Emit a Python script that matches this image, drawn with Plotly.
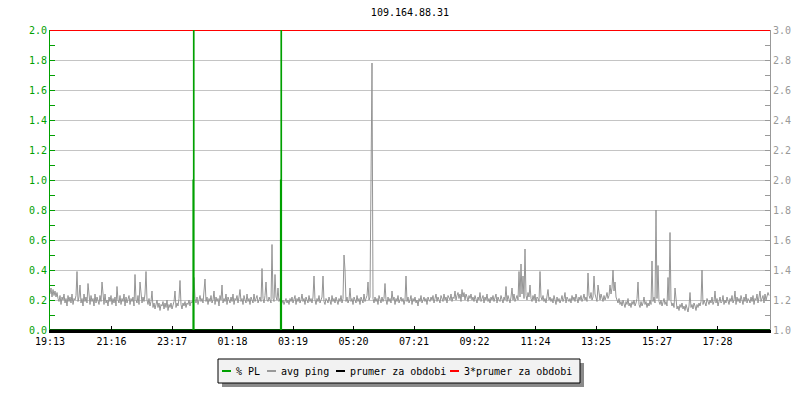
import pandas as pd
import plotly.graph_objects as go

# ---------------- data ----------------
title_text = "109.164.88.31"
start_time = "2024-03-11 19:13"
end_time = "2024-03-12 19:13"
sample_minutes = 2

avg_ping = [
    1.24,1.28,1.22,1.27,1.23,1.26,1.22,1.25,1.21,1.19,1.23,1.17,1.22,1.20,1.24,1.18,1.21,1.16,1.23,1.19,
    1.22,1.18,1.24,1.17,1.21,1.20,1.23,1.39,1.19,1.22,1.30,1.18,1.21,1.16,1.24,1.19,1.22,1.18,1.31,1.20,
    1.17,1.23,1.19,1.21,1.16,1.24,1.18,1.22,1.20,1.17,1.23,1.19,1.32,1.21,1.17,1.24,1.18,1.20,1.16,1.22,
    1.19,1.23,1.17,1.21,1.18,1.22,1.16,1.29,1.20,1.18,1.23,1.17,1.21,1.19,1.24,1.16,1.22,1.18,1.20,1.23,
    1.17,1.21,1.19,1.22,1.16,1.37,1.20,1.18,1.23,1.17,1.32,1.21,1.18,1.22,1.19,1.24,1.39,1.20,1.17,1.21,
    1.16,1.19,1.26,1.15,1.18,1.14,1.17,1.20,1.15,1.18,1.13,1.17,1.16,1.19,1.14,1.18,1.15,1.20,1.13,1.17,
    1.15,1.18,1.14,1.17,1.19,1.26,1.15,1.18,1.16,1.21,1.33,1.17,1.14,1.18,1.16,1.19,1.15,1.18,1.17,1.20,
    1.16,1.19,1.18,1.20,1.35,1.21,1.18,1.22,1.17,1.20,1.23,1.19,1.21,1.18,1.24,1.34,1.19,1.22,1.17,1.21,
    1.19,1.23,1.18,1.20,1.26,1.17,1.22,1.19,1.21,1.16,1.23,1.20,1.30,1.18,1.21,1.19,1.24,1.17,1.22,1.20,
    1.18,1.22,1.19,1.24,1.17,1.21,1.20,1.23,1.18,1.22,1.27,1.19,1.21,1.17,1.23,1.20,1.18,1.24,1.19,1.21,
    1.17,1.22,1.20,1.18,1.24,1.19,1.21,1.23,1.18,1.20,1.22,1.19,1.41,1.21,1.18,1.23,1.32,1.20,1.19,1.22,
    1.20,1.18,1.57,1.21,1.19,1.37,1.22,1.20,1.28,1.19,1.21,1.17,1.18,1.20,1.17,1.19,1.21,1.18,1.20,1.17,
    1.21,1.19,1.22,1.18,1.20,1.23,1.17,1.21,1.19,1.22,1.18,1.20,1.24,1.19,1.21,1.17,1.22,1.20,1.18,1.23,
    1.19,1.21,1.18,1.22,1.36,1.20,1.17,1.21,1.19,1.23,1.18,1.20,1.22,1.36,1.19,1.17,1.21,1.20,1.18,1.22,
    1.20,1.17,1.23,1.19,1.21,1.18,1.22,1.20,1.17,1.21,1.19,1.23,1.18,1.21,1.50,1.40,1.19,1.22,1.18,1.20,
    1.28,1.19,1.21,1.17,1.22,1.20,1.18,1.23,1.19,1.21,1.17,1.22,1.20,1.18,1.24,1.19,1.21,1.23,1.32,1.20,
    1.22,1.98,2.78,1.21,1.18,1.22,1.19,1.21,1.17,1.23,1.20,1.18,1.22,1.19,1.21,1.31,1.20,1.17,1.22,1.19,
    1.21,1.18,1.26,1.20,1.22,1.17,1.21,1.19,1.23,1.18,1.20,1.22,1.19,1.21,1.17,1.20,1.36,1.19,1.22,1.18,
    1.20,1.23,1.17,1.21,1.19,1.22,1.18,1.20,1.16,1.21,1.19,1.23,1.18,1.20,1.22,1.19,1.21,1.17,1.22,1.20,
    1.19,1.22,1.20,1.23,1.18,1.21,1.24,1.19,1.22,1.20,1.18,1.23,1.21,1.19,1.24,1.20,1.22,1.18,1.23,1.21,
    1.20,1.24,1.19,1.22,1.21,1.26,1.20,1.23,1.25,1.21,1.24,1.19,1.27,1.22,1.25,1.20,1.24,1.22,1.19,1.23,
    1.21,1.24,1.20,1.22,1.19,1.23,1.21,1.18,1.22,1.20,1.25,1.19,1.21,1.23,1.18,1.22,1.20,1.24,1.19,1.21,
    1.18,1.22,1.20,1.23,1.19,1.21,1.24,1.18,1.22,1.20,1.19,1.23,1.21,1.18,1.22,1.20,1.29,1.19,1.23,1.21,
    1.18,1.22,1.28,1.20,1.24,1.19,1.21,1.23,1.20,1.39,1.22,1.44,1.24,1.36,1.21,1.54,1.23,1.20,1.25,1.22,
    1.30,1.21,1.19,1.23,1.20,1.24,1.18,1.22,1.21,1.19,1.39,1.22,1.20,1.23,1.19,1.21,1.18,1.22,1.27,1.20,
    1.22,1.19,1.21,1.18,1.23,1.20,1.17,1.22,1.19,1.21,1.18,1.20,1.23,1.19,1.21,1.25,1.18,1.22,1.20,1.19,
    1.21,1.18,1.23,1.20,1.22,1.19,1.24,1.21,1.18,1.22,1.20,1.23,1.19,1.21,1.24,1.20,1.22,1.19,1.38,1.23,
    1.21,1.25,1.20,1.22,1.36,1.24,1.21,1.19,1.30,1.22,1.20,1.24,1.21,1.19,1.23,1.20,1.22,1.25,1.21,1.23,
    1.30,1.24,1.28,1.40,1.26,1.32,1.22,1.20,1.18,1.21,1.17,1.19,1.16,1.20,1.18,1.15,1.19,1.17,1.21,1.16,
    1.18,1.15,1.19,1.17,1.20,1.16,1.18,1.21,1.32,1.17,1.15,1.19,1.16,1.18,1.22,1.17,1.19,1.15,1.18,1.16,
    1.20,1.17,1.46,1.19,1.22,1.18,1.80,1.21,1.43,1.19,1.17,1.20,1.16,1.18,1.21,1.17,1.19,1.16,1.35,1.20,
    1.65,1.19,1.16,1.18,1.15,1.28,1.17,1.14,1.16,1.13,1.17,1.15,1.18,1.14,1.16,1.13,1.17,1.15,1.12,1.16,
    1.25,1.15,1.17,1.14,1.18,1.16,1.13,1.17,1.15,1.18,1.16,1.19,1.40,1.17,1.20,1.18,1.16,1.21,1.19,1.17,
    1.20,1.18,1.22,1.17,1.19,1.26,1.18,1.21,1.16,1.20,1.22,1.18,1.19,1.23,1.17,1.20,1.18,1.22,1.19,1.17,
    1.21,1.19,1.23,1.18,1.20,1.26,1.17,1.22,1.19,1.21,1.18,1.23,1.20,1.17,1.22,1.19,1.24,1.18,1.21,1.20,
    1.18,1.22,1.19,1.23,1.17,1.21,1.20,1.24,1.18,1.22,1.26,1.19,1.21,1.23,1.18,1.24,1.20,1.22,1.25,1.23,
]

pl_times = ["2024-03-11 19:13", "2024-03-11 23:59", "2024-03-12 00:00", "2024-03-12 00:01",
            "2024-03-12 02:54", "2024-03-12 02:55", "2024-03-12 02:56", "2024-03-12 19:13"]
pl_values = [0, 1.0, 3.0, 0, 1.0, 3.0, 0, 0]

prumer_times = [start_time, end_time]
prumer = [1.0, 1.0]
triple_prumer = [3 * v for v in prumer]

tick_labels = ["19:13", "21:16", "23:17", "01:18", "03:19", "05:20",
               "07:21", "09:22", "11:24", "13:25", "15:27", "17:28"]
left_ticks = [0.0, 0.2, 0.4, 0.6, 0.8, 1.0, 1.2, 1.4, 1.6, 1.8, 2.0]
right_ticks = [1.0, 1.2, 1.4, 1.6, 1.8, 2.0, 2.2, 2.4, 2.6, 2.8, 3.0]

legend_names = ["% PL", "avg ping", "prumer za obdobi", "3*prumer za obdobi"]

# ---------------- style ----------------
GREEN = "#00a000"
GRAY = "#999999"
RED = "#ff0000"
FONT = "DejaVu Sans Mono"
legend_colors = [GREEN, GRAY, "black", RED]

W, H = 800, 400
ML, MR, MT, MB = 50, 30, 30, 70
PW, PH = W - ML - MR, H - MT - MB


def px_x(px):
    return (px - ML) / PW


def px_y(py):
    return (H - MB - py) / PH


# ---------------- build ----------------
t0 = pd.Timestamp(start_time)
ping_times = [t0 + pd.Timedelta(minutes=sample_minutes * i) for i in range(len(avg_ping))]

tick_vals = []
for lab in tick_labels:
    ts = pd.Timestamp(t0.strftime("%Y-%m-%d") + " " + lab)
    if ts < t0:
        ts += pd.Timedelta(days=1)
    tick_vals.append(ts)

fig = go.Figure()
fig.add_trace(go.Scatter(x=ping_times, y=avg_ping, mode="lines", name=legend_names[1],
                         line=dict(color="#959595", width=1), yaxis="y"))
fig.add_trace(go.Scatter(x=prumer_times, y=prumer, mode="lines", name=legend_names[2],
                         line=dict(color="black", width=2), yaxis="y"))
fig.add_trace(go.Scatter(x=prumer_times, y=triple_prumer, mode="lines", name=legend_names[3],
                         line=dict(color=RED, width=2), yaxis="y"))
fig.add_trace(go.Scatter(x=pl_times, y=pl_values, mode="lines", name=legend_names[0],
                         line=dict(color=GREEN, width=1.2, shape="hv"), yaxis="y2"))

# legend box (shadowed box with short colour bars)
box_l, box_r, box_t, box_b = 218, 580, 359, 383
shadow = 4
shapes = [
    dict(type="rect", xref="paper", yref="paper",
         x0=px_x(box_l + shadow), x1=px_x(box_r + shadow),
         y0=px_y(box_b + shadow), y1=px_y(box_t + shadow),
         fillcolor="#8a8a8a", line=dict(width=0), layer="above"),
    dict(type="rect", xref="paper", yref="paper",
         x0=px_x(box_l), x1=px_x(box_r), y0=px_y(box_b), y1=px_y(box_t),
         fillcolor="#f2f2f2", line=dict(color="black", width=1), layer="above"),
]
annotations = []
sym_x = [222, 267, 336, 450]
row_y = 371
for name, color, sx in zip(legend_names, legend_colors, sym_x):
    shapes.append(dict(type="line", xref="paper", yref="paper",
                       x0=px_x(sx), x1=px_x(sx + 9), y0=px_y(row_y), y1=px_y(row_y),
                       line=dict(color=color, width=2), layer="above"))
    annotations.append(dict(text=name, xref="paper", yref="paper",
                            x=px_x(sx + 12), y=px_y(row_y), xanchor="left", yanchor="middle",
                            showarrow=False, font=dict(family=FONT, size=10, color="black")))

fig.update_layout(
    width=W, height=H,
    margin=dict(l=ML, r=MR, t=MT, b=MB, autoexpand=False),
    paper_bgcolor="white", plot_bgcolor="white",
    font=dict(family=FONT, size=10, color="black"),
    title=dict(text=title_text, x=0.5, xref="paper", xanchor="center",
               y=1 - 12 / H, yref="container", yanchor="middle",
               font=dict(family=FONT, size=10, color="black")),
    showlegend=False,
    shapes=shapes,
    annotations=annotations,
    xaxis=dict(range=[t0, pd.Timestamp(end_time)], tickvals=tick_vals, ticktext=tick_labels,
               automargin=False,
               showgrid=False, zeroline=False, showline=True, linecolor="black", linewidth=3,
               ticks="inside", ticklen=4, tickcolor="black", tickwidth=1,
               tickfont=dict(family=FONT, size=10, color="black")),
    yaxis=dict(range=[1.0, 3.0], side="right", tickvals=right_ticks, tickformat=".1f",
               automargin=False,
               showgrid=True, gridcolor="#c4c4c4", gridwidth=1, zeroline=False,
               showline=True, linecolor=GRAY, linewidth=1,
               ticks="inside", ticklen=5, tickcolor=GRAY,
               minor=dict(dtick=0.1, ticks="inside", ticklen=5, tickcolor=GRAY, showgrid=False),
               tickfont=dict(family=FONT, size=10, color=GRAY)),
    yaxis2=dict(range=[0.0, 2.0], side="left", overlaying="y", tickvals=left_ticks, tickformat=".1f",
                automargin=False,
                showgrid=False, zeroline=False,
                showline=True, linecolor=GREEN, linewidth=1,
                ticks="inside", ticklen=5, tickcolor=GREEN,
                minor=dict(dtick=0.1, ticks="inside", ticklen=5, tickcolor=GREEN, showgrid=False),
                tickfont=dict(family=FONT, size=10, color=GREEN)),
)

fig.write_html("out.html", config={"displayModeBar": False},
               post_script="document.body.style.margin='0px';")
